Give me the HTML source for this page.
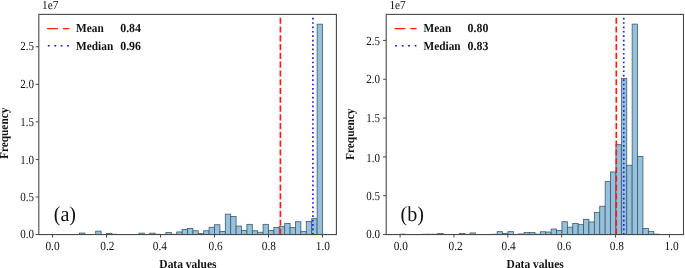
<!DOCTYPE html>
<html><head><meta charset="utf-8"><title>Histograms</title>
<style>
html,body{margin:0;padding:0;background:#fff;}
svg{display:block;will-change:transform;}
text{text-rendering:geometricPrecision;font-family:"Liberation Serif",serif;fill:#111;font-size:11px;}
.b{font-weight:bold;}
</style></head><body>
<svg width="685" height="268" viewBox="0 0 685 268">
<rect width="685" height="268" fill="#fff"/>
<g fill="#96c1dd" stroke="#40596a" stroke-width="0.8">
<rect x="52.50" y="234.40" width="5.40" height="0.15"/>
<rect x="57.90" y="234.40" width="5.40" height="0.15"/>
<rect x="63.30" y="234.40" width="5.40" height="0.15"/>
<rect x="68.70" y="234.40" width="5.40" height="0.15"/>
<rect x="74.10" y="234.40" width="5.40" height="0.15"/>
<rect x="79.50" y="233.05" width="5.40" height="1.50"/>
<rect x="84.90" y="234.40" width="5.40" height="0.15"/>
<rect x="90.30" y="234.40" width="5.40" height="0.15"/>
<rect x="95.70" y="231.15" width="5.40" height="3.40"/>
<rect x="101.10" y="234.40" width="5.40" height="0.15"/>
<rect x="106.50" y="233.35" width="5.40" height="1.20"/>
<rect x="111.90" y="234.25" width="5.40" height="0.30"/>
<rect x="117.30" y="234.40" width="5.40" height="0.15"/>
<rect x="122.70" y="234.40" width="5.40" height="0.15"/>
<rect x="128.10" y="234.40" width="5.40" height="0.15"/>
<rect x="133.50" y="234.40" width="5.40" height="0.15"/>
<rect x="138.90" y="233.15" width="5.40" height="1.40"/>
<rect x="144.30" y="234.40" width="5.40" height="0.15"/>
<rect x="149.70" y="233.15" width="5.40" height="1.40"/>
<rect x="155.10" y="234.25" width="5.40" height="0.30"/>
<rect x="160.50" y="234.40" width="5.40" height="0.15"/>
<rect x="165.90" y="232.55" width="5.40" height="2.00"/>
<rect x="171.30" y="234.25" width="5.40" height="0.30"/>
<rect x="176.70" y="231.95" width="5.40" height="2.60"/>
<rect x="182.10" y="229.45" width="5.40" height="5.10"/>
<rect x="187.50" y="228.45" width="5.40" height="6.10"/>
<rect x="192.90" y="230.75" width="5.40" height="3.80"/>
<rect x="198.30" y="233.65" width="5.40" height="0.90"/>
<rect x="203.70" y="230.75" width="5.40" height="3.80"/>
<rect x="209.10" y="227.25" width="5.40" height="7.30"/>
<rect x="214.50" y="224.75" width="5.40" height="9.80"/>
<rect x="219.90" y="231.45" width="5.40" height="3.10"/>
<rect x="225.30" y="214.15" width="5.40" height="20.40"/>
<rect x="230.70" y="216.45" width="5.40" height="18.10"/>
<rect x="236.10" y="226.05" width="5.40" height="8.50"/>
<rect x="241.50" y="230.45" width="5.40" height="4.10"/>
<rect x="246.90" y="224.35" width="5.40" height="10.20"/>
<rect x="252.30" y="230.75" width="5.40" height="3.80"/>
<rect x="257.70" y="232.25" width="5.40" height="2.30"/>
<rect x="263.10" y="224.35" width="5.40" height="10.20"/>
<rect x="268.50" y="230.45" width="5.40" height="4.10"/>
<rect x="273.90" y="227.55" width="5.40" height="7.00"/>
<rect x="279.30" y="226.35" width="5.40" height="8.20"/>
<rect x="284.70" y="223.45" width="5.40" height="11.10"/>
<rect x="290.10" y="227.55" width="5.40" height="7.00"/>
<rect x="295.50" y="221.75" width="5.40" height="12.80"/>
<rect x="300.90" y="231.35" width="5.40" height="3.20"/>
<rect x="306.30" y="221.45" width="5.40" height="13.10"/>
<rect x="311.70" y="218.65" width="5.40" height="15.90"/>
<rect x="317.10" y="24.15" width="5.40" height="210.40"/>
</g>
<path d="M280.40 234.55 V14.4" stroke="#ff1a1a" stroke-width="1.66" stroke-dasharray="6.13 2.65" fill="none"/>
<path d="M312.90 234.55 V14.4" stroke="#1a1aff" stroke-width="1.66" stroke-dasharray="1.66 2.73" fill="none"/>
<rect x="38.8" y="14.4" width="297.6" height="220.15" fill="none" stroke="#484848" stroke-width="1.1"/>
<g stroke="#484848" stroke-width="1">
<path d="M35.699999999999996 234.55 H38.8"/>
<path d="M35.699999999999996 196.99 H38.8"/>
<path d="M35.699999999999996 159.43 H38.8"/>
<path d="M35.699999999999996 121.87 H38.8"/>
<path d="M35.699999999999996 84.31 H38.8"/>
<path d="M35.699999999999996 46.75 H38.8"/>
<path d="M52.50 234.55 V237.55"/>
<path d="M106.50 234.55 V237.55"/>
<path d="M160.50 234.55 V237.55"/>
<path d="M214.50 234.55 V237.55"/>
<path d="M268.50 234.55 V237.55"/>
<path d="M322.50 234.55 V237.55"/>
</g>
<text transform="translate(33.90 238.05) scale(1.0 1.12)" text-anchor="end" style="font-size:11px">0.0</text>
<text transform="translate(33.90 201.49) scale(1.0 1.12)" text-anchor="end" style="font-size:11px">0.5</text>
<text transform="translate(33.90 163.93) scale(1.0 1.12)" text-anchor="end" style="font-size:11px">1.0</text>
<text transform="translate(33.90 126.07) scale(1.0 1.12)" text-anchor="end" style="font-size:11px">1.5</text>
<text transform="translate(33.90 88.21) scale(1.0 1.12)" text-anchor="end" style="font-size:11px">2.0</text>
<text transform="translate(33.90 49.85) scale(1.0 1.12)" text-anchor="end" style="font-size:11px">2.5</text>
<text transform="translate(52.50 249.60) scale(1.03 1.12)" text-anchor="middle" style="font-size:11px">0.0</text>
<text transform="translate(107.30 249.60) scale(1.03 1.12)" text-anchor="middle" style="font-size:11px">0.2</text>
<text transform="translate(159.90 249.60) scale(1.03 1.12)" text-anchor="middle" style="font-size:11px">0.4</text>
<text transform="translate(215.70 249.60) scale(1.03 1.12)" text-anchor="middle" style="font-size:11px">0.6</text>
<text transform="translate(268.80 249.60) scale(1.03 1.12)" text-anchor="middle" style="font-size:11px">0.8</text>
<text transform="translate(322.90 249.60) scale(1.03 1.12)" text-anchor="middle" style="font-size:11px">1.0</text>
<text transform="translate(42.00 8.80) scale(1.03 1.12)" text-anchor="start" style="font-size:11px">1e7</text>
<text class="b" transform="translate(187.90 267.60) scale(1.045 1.12)" text-anchor="middle" style="font-size:11px">Data values</text>
<text class="b" transform="translate(8.40 133.30) rotate(-90) scale(1.03 1.12)" text-anchor="middle" style="font-size:11px">Frequency</text>
<text transform="translate(53.70 221.00) scale(1.03 1.1)" text-anchor="start" style="font-size:19.5px">(a)</text>
<path d="M47.099999999999994 28.6 h10.8 m5.1 0 h6.3" stroke="#ff1a1a" stroke-width="1.45" fill="none"/>
<g fill="#1a1aff"><rect x="47.85" y="44.95" width="1.8" height="1.6"/><rect x="54.40" y="44.95" width="1.8" height="1.6"/><rect x="60.70" y="44.95" width="1.8" height="1.6"/><rect x="67.20" y="44.95" width="1.8" height="1.6"/></g>
<text class="b" transform="translate(76.10 32.20) scale(1.03 1.12)" text-anchor="start" style="font-size:11px">Mean</text>
<text class="b" transform="translate(76.10 49.60) scale(1.03 1.12)" text-anchor="start" style="font-size:11px">Median</text>
<text class="b" transform="translate(120.20 32.20) scale(1.08 1.12)" text-anchor="start" style="font-size:11px">0.84</text>
<text class="b" transform="translate(120.20 49.60) scale(1.08 1.12)" text-anchor="start" style="font-size:11px">0.96</text>
<g fill="#96c1dd" stroke="#40596a" stroke-width="0.8">
<rect x="399.95" y="234.15" width="5.40" height="0.40"/>
<rect x="405.35" y="234.40" width="5.40" height="0.15"/>
<rect x="410.75" y="234.40" width="5.40" height="0.15"/>
<rect x="416.15" y="234.40" width="5.40" height="0.15"/>
<rect x="421.55" y="234.25" width="5.40" height="0.30"/>
<rect x="426.95" y="234.20" width="5.40" height="0.35"/>
<rect x="432.35" y="234.20" width="5.40" height="0.35"/>
<rect x="437.75" y="233.55" width="5.40" height="1.00"/>
<rect x="443.15" y="234.40" width="5.40" height="0.15"/>
<rect x="448.55" y="234.40" width="5.40" height="0.15"/>
<rect x="453.95" y="234.40" width="5.40" height="0.15"/>
<rect x="459.35" y="233.55" width="5.40" height="1.00"/>
<rect x="464.75" y="234.25" width="5.40" height="0.30"/>
<rect x="470.15" y="232.95" width="5.40" height="1.60"/>
<rect x="475.55" y="234.40" width="5.40" height="0.15"/>
<rect x="480.95" y="234.40" width="5.40" height="0.15"/>
<rect x="486.35" y="234.40" width="5.40" height="0.15"/>
<rect x="491.75" y="234.25" width="5.40" height="0.30"/>
<rect x="497.15" y="231.65" width="5.40" height="2.90"/>
<rect x="502.55" y="233.35" width="5.40" height="1.20"/>
<rect x="507.95" y="231.65" width="5.40" height="2.90"/>
<rect x="513.35" y="234.35" width="5.40" height="0.20"/>
<rect x="518.75" y="233.95" width="5.40" height="0.60"/>
<rect x="524.15" y="232.55" width="5.40" height="2.00"/>
<rect x="529.55" y="232.55" width="5.40" height="2.00"/>
<rect x="534.95" y="234.15" width="5.40" height="0.40"/>
<rect x="540.35" y="231.75" width="5.40" height="2.80"/>
<rect x="545.75" y="232.05" width="5.40" height="2.50"/>
<rect x="551.15" y="229.05" width="5.40" height="5.50"/>
<rect x="556.55" y="230.45" width="5.40" height="4.10"/>
<rect x="561.95" y="221.75" width="5.40" height="12.80"/>
<rect x="567.35" y="227.15" width="5.40" height="7.40"/>
<rect x="572.75" y="223.45" width="5.40" height="11.10"/>
<rect x="578.15" y="224.65" width="5.40" height="9.90"/>
<rect x="583.55" y="219.35" width="5.40" height="15.20"/>
<rect x="588.95" y="221.95" width="5.40" height="12.60"/>
<rect x="594.35" y="212.35" width="5.40" height="22.20"/>
<rect x="599.75" y="206.25" width="5.40" height="28.30"/>
<rect x="605.15" y="181.60" width="5.40" height="52.95"/>
<rect x="610.55" y="171.95" width="5.40" height="62.60"/>
<rect x="615.95" y="144.70" width="5.40" height="89.85"/>
<rect x="621.35" y="78.30" width="5.40" height="156.25"/>
<rect x="626.75" y="165.25" width="5.40" height="69.30"/>
<rect x="632.15" y="24.10" width="5.40" height="210.45"/>
<rect x="637.55" y="156.45" width="5.40" height="78.10"/>
<rect x="642.95" y="228.45" width="5.40" height="6.10"/>
<rect x="648.35" y="231.35" width="5.40" height="3.20"/>
<rect x="653.75" y="234.15" width="5.40" height="0.40"/>
<rect x="659.15" y="234.40" width="5.40" height="0.15"/>
<rect x="664.55" y="234.40" width="5.40" height="0.15"/>
</g>
<path d="M616.30 234.55 V14.4" stroke="#ff1a1a" stroke-width="1.66" stroke-dasharray="6.13 2.65" fill="none"/>
<path d="M623.75 234.55 V14.4" stroke="#1a1aff" stroke-width="1.66" stroke-dasharray="1.66 2.73" fill="none"/>
<rect x="386.2" y="14.4" width="297.3" height="220.15" fill="none" stroke="#484848" stroke-width="1.1"/>
<g stroke="#484848" stroke-width="1">
<path d="M383.09999999999997 234.55 H386.2"/>
<path d="M383.09999999999997 195.73 H386.2"/>
<path d="M383.09999999999997 156.90 H386.2"/>
<path d="M383.09999999999997 118.08 H386.2"/>
<path d="M383.09999999999997 79.25 H386.2"/>
<path d="M383.09999999999997 40.43 H386.2"/>
<path d="M400.10 234.55 V237.55"/>
<path d="M453.96 234.55 V237.55"/>
<path d="M507.82 234.55 V237.55"/>
<path d="M561.68 234.55 V237.55"/>
<path d="M615.54 234.55 V237.55"/>
<path d="M669.40 234.55 V237.55"/>
</g>
<text transform="translate(379.90 238.05) scale(1.0 1.12)" text-anchor="end" style="font-size:11px">0.0</text>
<text transform="translate(379.90 200.23) scale(1.0 1.12)" text-anchor="end" style="font-size:11px">0.5</text>
<text transform="translate(379.90 161.60) scale(1.0 1.12)" text-anchor="end" style="font-size:11px">1.0</text>
<text transform="translate(379.90 121.78) scale(1.0 1.12)" text-anchor="end" style="font-size:11px">1.5</text>
<text transform="translate(379.90 83.15) scale(1.0 1.12)" text-anchor="end" style="font-size:11px">2.0</text>
<text transform="translate(379.90 44.83) scale(1.0 1.12)" text-anchor="end" style="font-size:11px">2.5</text>
<text transform="translate(400.75 249.60) scale(1.03 1.12)" text-anchor="middle" style="font-size:11px">0.0</text>
<text transform="translate(455.56 249.60) scale(1.03 1.12)" text-anchor="middle" style="font-size:11px">0.2</text>
<text transform="translate(508.62 249.60) scale(1.03 1.12)" text-anchor="middle" style="font-size:11px">0.4</text>
<text transform="translate(564.08 249.60) scale(1.03 1.12)" text-anchor="middle" style="font-size:11px">0.6</text>
<text transform="translate(616.84 249.60) scale(1.03 1.12)" text-anchor="middle" style="font-size:11px">0.8</text>
<text transform="translate(671.60 249.60) scale(1.03 1.12)" text-anchor="middle" style="font-size:11px">1.0</text>
<text transform="translate(389.40 8.80) scale(1.03 1.12)" text-anchor="start" style="font-size:11px">1e7</text>
<text class="b" transform="translate(535.15 267.60) scale(1.045 1.12)" text-anchor="middle" style="font-size:11px">Data values</text>
<text class="b" transform="translate(354.20 134.20) rotate(-90) scale(1.03 1.12)" text-anchor="middle" style="font-size:11px">Frequency</text>
<text transform="translate(400.50 221.00) scale(1.03 1.1)" text-anchor="start" style="font-size:19.5px">(b)</text>
<path d="M394.5 28.6 h10.8 m5.1 0 h6.3" stroke="#ff1a1a" stroke-width="1.45" fill="none"/>
<g fill="#1a1aff"><rect x="395.25" y="44.95" width="1.8" height="1.6"/><rect x="401.80" y="44.95" width="1.8" height="1.6"/><rect x="408.10" y="44.95" width="1.8" height="1.6"/><rect x="414.60" y="44.95" width="1.8" height="1.6"/></g>
<text class="b" transform="translate(423.50 32.20) scale(1.03 1.12)" text-anchor="start" style="font-size:11px">Mean</text>
<text class="b" transform="translate(423.50 49.60) scale(1.03 1.12)" text-anchor="start" style="font-size:11px">Median</text>
<text class="b" transform="translate(467.60 32.20) scale(1.08 1.12)" text-anchor="start" style="font-size:11px">0.80</text>
<text class="b" transform="translate(467.60 49.60) scale(1.08 1.12)" text-anchor="start" style="font-size:11px">0.83</text>
</svg>
</body></html>
